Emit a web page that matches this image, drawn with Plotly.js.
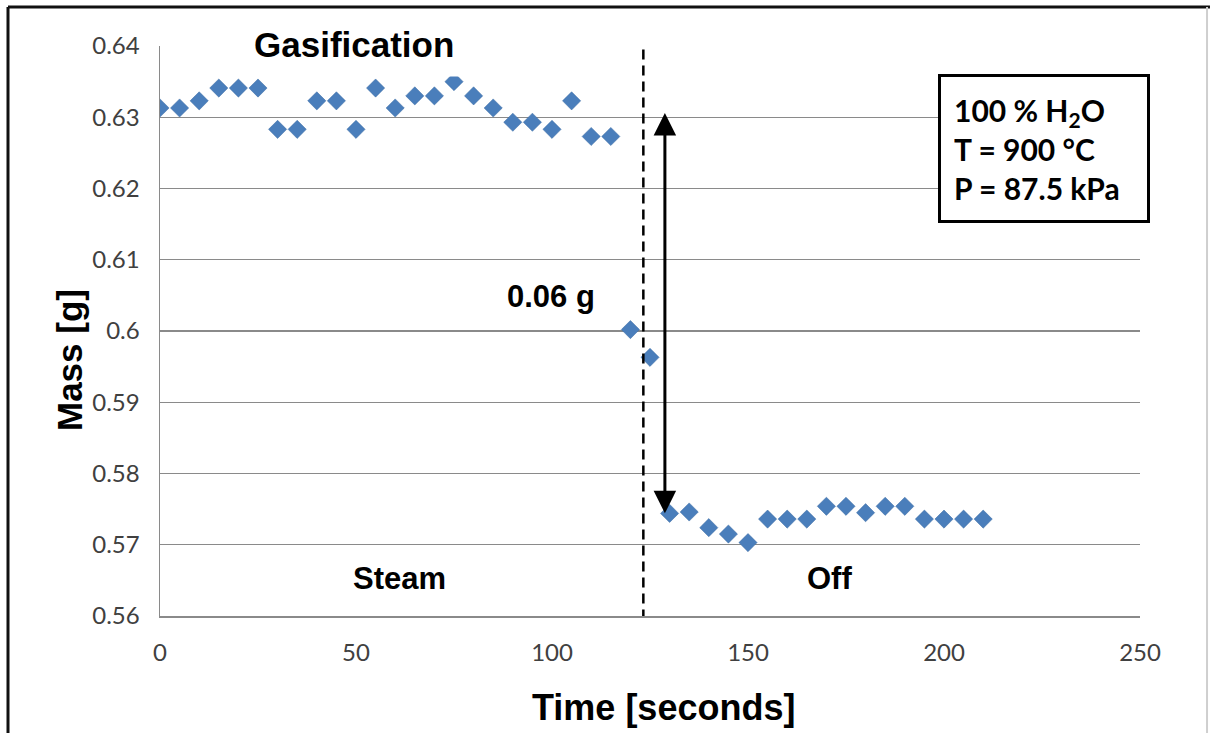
<!DOCTYPE html>
<html>
<head>
<meta charset="utf-8">
<script src="https://cdn.plot.ly/plotly-3.0.1.min.js"></script>
<style>
html,body{margin:0;padding:0;background:#fff;}
#chart{width:1213px;height:733px;}
</style>
</head>
<body>
<div id="chart"></div>
<script>
// Time [seconds]
const timeSteam = [0,5,10,15,20,25,30,35,40,45,50,55,60,65,70,75,80,85,90,95,100,105,110,115];
const massSteam = [0.6313,0.6313,0.6323,0.6341,0.6341,0.6341,0.6283,0.6283,0.6323,0.6323,0.6283,0.6341,0.6313,0.6330,0.6330,0.6350,0.6330,0.6313,0.6293,0.6293,0.6283,0.6323,0.6273,0.6273];
const timeDrop = [120,125,130,135,140,145,150,155,160,165,170,175,180,185,190,195,200,205,210];
const massDrop = [0.6002,0.5963,0.5744,0.5746,0.5724,0.5715,0.5703,0.5736,0.5736,0.5736,0.5754,0.5754,0.5745,0.5754,0.5754,0.5736,0.5736,0.5736,0.5736];
const yTickVals = [0.56,0.57,0.58,0.59,0.60,0.61,0.62,0.63,0.64];
const yTickText = ['0.56','0.57','0.58','0.59','0.6','0.61','0.62','0.63','0.64'];
const xTickVals = [0,50,100,150,200,250];
const switchTime = 123.3;
const arrowTime = 128.8;
const arrowTop = 0.6306;
const arrowBottom = 0.5742;

const timeAll = timeSteam.concat(timeDrop);
const massAll = massSteam.concat(massDrop);

const trace = {
  x: timeAll, y: massAll, type: 'scatter', mode: 'markers',
  marker: {symbol: 'diamond', size: 14, color: '#4a7ebb', line: {width: 0.5, color: '#3b6aa3'}},
  hoverinfo: 'x+y', showlegend: false
};

const tickFont = {family: 'Lato, Calibri, "Open Sans", sans-serif', size: 24, color: '#404040'};
const boldFont = (s) => ({family: 'Arial, "Liberation Sans", sans-serif', size: s, color: '#000'});

const layout = {
  width: 1213, height: 733,
  margin: {l: 160, r: 73, t: 46, b: 117},
  paper_bgcolor: '#fff', plot_bgcolor: '#fff',
  xaxis: {
    range: [0, 250], tickvals: xTickVals, showgrid: false, zeroline: false,
    showline: true, linecolor: '#8a8a8a', linewidth: 1.5, ticks: '',
    tickfont: tickFont, ticklabelstandoff: 15
  },
  yaxis: {
    range: [0.56, 0.64], tickvals: yTickVals, ticktext: yTickText,
    showgrid: true, gridcolor: '#8a8a8a', gridwidth: 1.2, zeroline: false,
    showline: true, linecolor: '#8a8a8a', linewidth: 1.5, ticks: '',
    tickfont: tickFont, ticklabelstandoff: 14
  },
  shapes: [
    {type: 'line', xref: 'x', yref: 'y', x0: switchTime, x1: switchTime, y0: 0.5595, y1: 0.6402,
     line: {color: '#000', width: 2.5, dash: '10px,6px'}},
    {type: 'line', xref: 'paper', yref: 'paper', x0: -0.1551, x1: -0.1551, y0: 1.0684, y1: -0.25,
     line: {color: '#111', width: 3}},
    {type: 'line', xref: 'paper', yref: 'paper', x0: -0.1551, x1: 1.0714, y0: 1.0684, y1: 1.0684,
     line: {color: '#111', width: 3}},
    {type: 'line', xref: 'paper', yref: 'paper', x0: 1.0684, x1: 1.0684, y0: 1.0684, y1: -0.25,
     line: {color: '#cfcfcf', width: 2}}
  ],
  annotations: [
    {x: arrowTime, y: arrowTop, ax: arrowTime, ay: arrowBottom, xref: 'x', yref: 'y', axref: 'x', ayref: 'y',
     text: '', showarrow: true, arrowhead: 2, startarrowhead: 2, arrowside: 'end+start',
     arrowsize: 1.5, startarrowsize: 1.5, arrowwidth: 3, arrowcolor: '#000', standoff: 0, startstandoff: 0},
    {x: 0.198, y: 1.0035, xref: 'paper', yref: 'paper', text: '<b>Gasification</b>', showarrow: false,
     font: boldFont(35), bgcolor: '#fff', borderpad: 12, xanchor: 'center', yanchor: 'middle'},
    {x: 99.7, y: 0.6048, xref: 'x', yref: 'y', text: '<b>0.06 g</b>', showarrow: false, font: boldFont(31)},
    {x: 61, y: 0.5652, xref: 'x', yref: 'y', text: '<b>Steam</b>', showarrow: false, font: boldFont(31)},
    {x: 170.7, y: 0.5652, xref: 'x', yref: 'y', text: '<b>Off</b>', showarrow: false, font: boldFont(31)},
    {x: 225.4, y: 0.6256, xref: 'x', yref: 'y',
     text: '<b>100 % H<sub>2</sub>O<br>T = 900 °C<br>P = 87.5 kPa</b>', showarrow: false,
     align: 'left', width: 180, height: 117, borderpad: 13, bordercolor: '#000', borderwidth: 3,
     bgcolor: '#fff', font: {family: 'Lato, Calibri, "Open Sans", sans-serif', size: 30, color: '#000'}},
    {x: -0.0929, y: 0.449, xref: 'paper', yref: 'paper', text: '<b>Mass [g]</b>', showarrow: false,
     textangle: -90, font: boldFont(35), xanchor: 'center', yanchor: 'middle'},
    {x: 0.5138, y: -0.1614, xref: 'paper', yref: 'paper', text: '<b>Time [seconds]</b>', showarrow: false,
     font: boldFont(36), xanchor: 'center', yanchor: 'middle'}
  ]
};

Plotly.newPlot('chart', [trace], layout, {displayModeBar: false, staticPlot: true});
</script>
</body>
</html>
